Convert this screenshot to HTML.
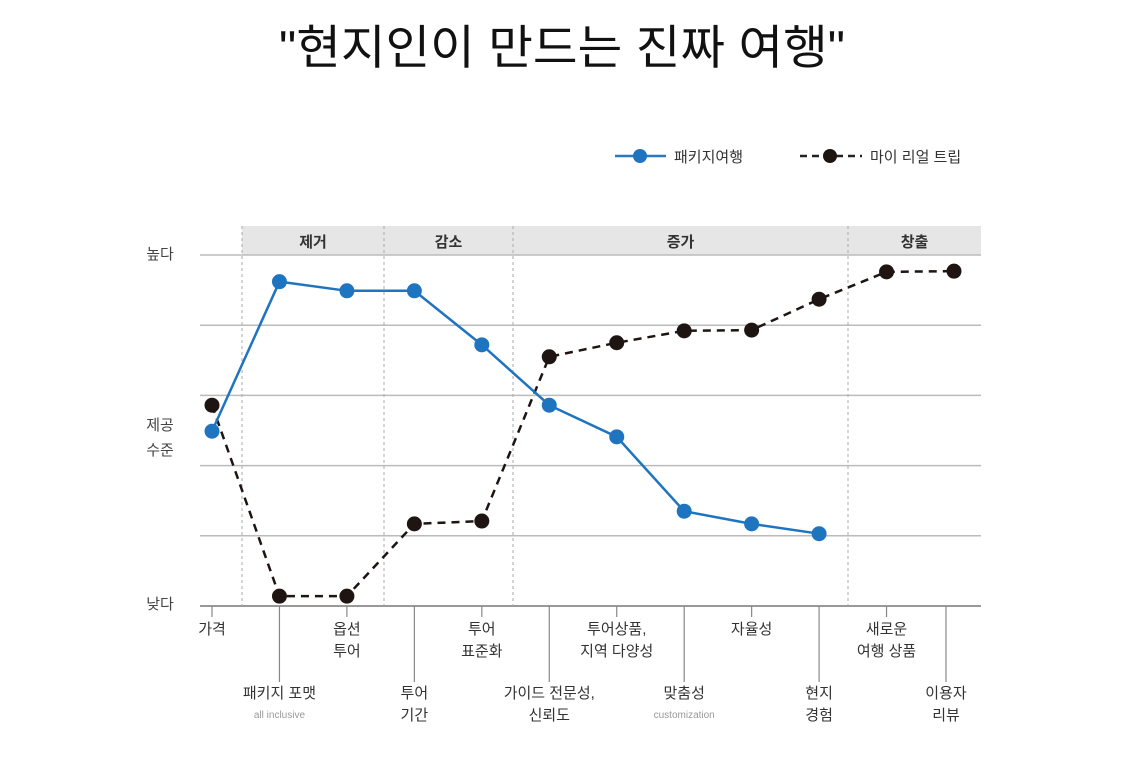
<!DOCTYPE html>
<html><head><meta charset="utf-8"><style>
body{margin:0;background:#fff;width:1124px;height:768px;overflow:hidden;font-family:"Liberation Sans","Noto Sans CJK KR",sans-serif}
svg text{font-family:"Liberation Sans","Noto Sans CJK KR",sans-serif}
</style></head><body>
<svg id="c" width="1124" height="768">
<text x="562" y="64" text-anchor="middle" font-size="47" fill="#111" textLength="566" lengthAdjust="spacingAndGlyphs">"현지인이 만드는 진짜 여행"</text>
<g>
<line x1="615" y1="156" x2="666" y2="156" stroke="#2a78c0" stroke-width="2.5"/>
<circle cx="640" cy="156" r="7" fill="#1f74c0"/>
<text x="674" y="162" font-size="15" fill="#333">패키지여행</text>
<line x1="800" y1="156" x2="862" y2="156" stroke="#222" stroke-width="2.5" stroke-dasharray="7,5"/>
<circle cx="830" cy="156" r="7" fill="#1e1412"/>
<text x="870" y="162" font-size="15" fill="#333">마이 리얼 트립</text>
</g>
<g id="plot"></g>
</svg>
<script>
const categories=["가격","패키지 포맷","옵션 투어","투어 기간","투어 표준화","가이드 전문성, 신뢰도","투어상품, 지역 다양성","맞춤성","자율성","현지 경험","새로운 여행 상품","이용자 리뷰"];
const packageValues=[2.49,4.62,4.49,4.49,3.72,2.86,2.41,1.35,1.17,1.03];
const myRealTripValues=[2.86,0.14,0.14,1.17,1.21,3.55,3.75,3.92,3.93,4.37,4.76,4.77];
const yTickLabels=["낮다","","","","","높다"];
const sections=["제거","감소","증가","창출"];
const labelLines=[["가격"],["패키지 포맷","all inclusive"],["옵션","투어"],["투어","기간"],["투어","표준화"],["가이드 전문성,","신뢰도"],["투어상품,","지역 다양성"],["맞춤성","customization"],["자율성"],["현지","경험"],["새로운","여행 상품"],["이용자","리뷰"]];
const NS="http://www.w3.org/2000/svg";
const g=document.getElementById('plot');
const X0=200,X1=981,Y0=606,Y1=255;
const xs=i=>212+i*(954-212)/11;
const ys=v=>Y0-(v/5)*(Y0-Y1);
function el(t,a){const e=document.createElementNS(NS,t);for(const k in a)e.setAttribute(k,a[k]);g.appendChild(e);return e;}
let band=el('rect',{x:242,y:226,width:X1-242,height:29,fill:'#e6e6e6'});


const sepX=[242,384,513,848];
const sepEnd=[384,513,848,981];
sections.forEach((s,i)=>{
  const t=el('text',{x:(sepX[i]+sepEnd[i])/2,y:247,'text-anchor':'middle','font-size':15,'font-weight':'bold',fill:'#333'});
  t.textContent=s;
  
  
});
for(let k=0;k<=5;k++){
  const l=el('line',{x1:X0,x2:X1,y1:ys(k),y2:ys(k),stroke:k==0?'#999':'#bbb','stroke-width':k==0?2:1.5});
  
  
}
sepX.forEach(x=>{
  const l=el('line',{x1:x,x2:x,y1:226,y2:Y0,stroke:'#aaa','stroke-width':1,'stroke-dasharray':'3,3'});
  
  
});
const yl=[["높다",259],["제공",430],["수준",455],["낮다",609]];
yl.forEach(a=>{const t=el('text',{x:160,y:a[1],'text-anchor':'middle','font-size':15,fill:'#444'});t.textContent=a[0];

});
categories.forEach((c,i)=>{
  const x=xs(i)-(i==11?8:0);
  const long=i%2==1;
  const l=el('line',{x1:x,x2:x,y1:Y0,y2:long?682:617,stroke:'#888','stroke-width':1.2});
  
  
  const lines=labelLines[i];const base=long?698:634;
  lines.forEach((ln,j)=>{
    const small=(ln==="all inclusive"||ln==="customization");
    const t=el('text',{x:x,y:small?base+20:base+j*22,'text-anchor':'middle','font-size':small?10:15,fill:small?'#999':'#333'});
    t.textContent=ln;
    
    
  });
});
function series(vals,color,dash,name){
  const p=el('polyline',{points:vals.map((v,i)=>xs(i)+','+ys(v)).join(' '),fill:'none',stroke:color,'stroke-width':2.5,'stroke-dasharray':dash});
  
  
  vals.forEach((v,i)=>{const c=el('circle',{cx:xs(i),cy:ys(v),r:7.5,fill:color});
  
  });
}
series(myRealTripValues,'#1e1412','8,6','myrealtrip');
series(packageValues,'#1f74c0','none','package');
</script>
</body></html>
